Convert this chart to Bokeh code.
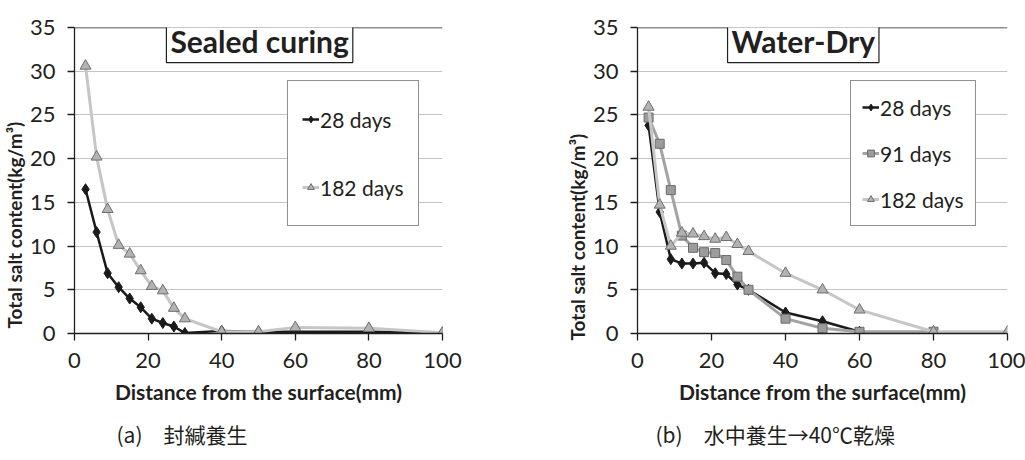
import math
from bokeh.plotting import figure
from bokeh.models import Range1d, Legend, LegendItem, Label, Span, FixedTicker, Title
from bokeh.layouts import row
from bokeh.embed import file_html
from bokeh.resources import INLINE

# ---------------- data ----------------
x_ticks = [0, 20, 40, 60, 80, 100]
y_ticks = [0, 5, 10, 15, 20, 25, 30, 35]

# (a) Sealed curing
depth_a = [3, 6, 9, 12, 15, 18, 21, 24, 27, 30, 40, 50, 60, 80, 100]
sealed_28 = [16.5, 11.6, 6.9, 5.3, 4.0, 3.0, 1.7, 1.2, 0.8, 0.05, 0.3, 0.2, 0.2, 0.2, 0.1]
sealed_182 = [30.6, 20.2, 14.2, 10.1, 9.1, 7.2, 5.4, 4.9, 2.9, 1.7, 0.2, 0.2, 0.7, 0.6, 0.1]

# (b) Water-Dry
depth_b_28 = [3, 6, 9, 12, 15, 18, 21, 24, 27, 30, 40, 50, 60]
wd_28 = [23.8, 13.9, 8.5, 8.0, 8.0, 8.1, 6.9, 6.8, 5.6, 5.0, 2.4, 1.4, 0.2]
depth_b_91 = [3, 6, 9, 12, 15, 18, 21, 24, 27, 30, 40, 50, 60, 80]
wd_91 = [24.7, 21.7, 16.4, 11.2, 9.8, 9.3, 9.2, 8.4, 6.5, 5.0, 1.7, 0.6, 0.2, 0.2]
depth_b_182 = [3, 6, 9, 12, 15, 18, 21, 24, 27, 30, 40, 50, 60, 80, 100]
wd_182 = [25.9, 14.7, 10.0, 11.5, 11.4, 11.1, 10.8, 11.0, 10.2, 9.4, 6.9, 5.0, 2.7, 0.2, 0.2]

titles = ["Sealed curing", "Water-Dry"]
captions = ["(a)\u3000封緘養生", "(b)\u3000水中養生\u219240\u2103乾燥"]
series_names = ["28 days", "91 days", "182 days"]
x_label = "Distance from the surface(mm)"
y_label = "Total salt content(kg/m\u00b3)"

INK = "#231f20"
GRID = "#c4c4c4"


def make_panel(width, bl, br, bt, bb):
    p = figure(width=width, height=460, x_range=Range1d(0, 100), y_range=Range1d(0, 35),
               output_backend="svg", toolbar_location=None,
               min_border_left=bl, min_border_right=br, min_border_top=bt, min_border_bottom=bb)
    p.outline_line_color = None
    p.background_fill_color = "white"
    p.border_fill_color = "white"
    p.xgrid.grid_line_color = None
    p.ygrid.grid_line_color = GRID
    p.ygrid.grid_line_width = 1
    p.xaxis.ticker = FixedTicker(ticks=x_ticks)
    p.yaxis.ticker = FixedTicker(ticks=y_ticks)
    for ax in (p.xaxis, p.yaxis):
        ax.axis_line_color = INK
        ax.axis_line_width = 1.3
        ax.major_tick_line_color = INK
        ax.major_tick_line_width = 1.3
        ax.major_tick_in = 0
        ax.major_tick_out = 7
        ax.minor_tick_line_color = None
        ax.major_label_text_font = "Lato"
        ax.major_label_text_font_size = "22px"
        ax.major_label_text_color = INK
    p.yaxis.major_label_standoff = 12
    p.xaxis.major_label_standoff = 12
    p.xaxis.axis_label = x_label
    p.xaxis.axis_label_text_font = "Lato"
    p.xaxis.axis_label_text_font_style = "bold"
    p.xaxis.axis_label_text_font_size = "21px"
    p.xaxis.axis_label_text_color = INK
    p.xaxis.axis_label_standoff = 8
    p.add_layout(Span(location=35, dimension="width", line_color=INK, line_width=1.3))
    return p


def add_title(p, text, xc, yc):
    p.add_layout(Label(x=xc, y=yc, text=text, text_font="Lato", text_font_style="bold",
                       text_font_size="30px", text_color=INK, text_align="center",
                       text_baseline="middle", background_fill_color="white",
                       border_line_color=INK, border_line_width=1.2, padding=4))


def add_ylabel(p, offset):
    p.add_layout(Title(text=y_label, align="left", offset=offset, standoff=1,
                       text_font="Lato", text_font_style="bold", text_font_size="19px",
                       text_color=INK), "left")


def add_caption(p, text, offset):
    p.add_layout(Title(text=text, align="left", offset=offset, standoff=20,
                       text_font="Noto Sans CJK JP", text_font_style="normal",
                       text_font_size="21px", text_color=INK), "below")


def series(p, xs, ys, kind):
    if kind == 0:
        l = p.line(xs, ys, line_color="#1a1a1a", line_width=2.5)
        s = p.scatter(xs, ys, marker="diamond", size=11, fill_color="#1a1a1a", line_color="#1a1a1a")
    elif kind == 1:
        l = p.line(xs, ys, line_color="#a3a3a3", line_width=3)
        s = p.scatter(xs, ys, marker="square", size=9, fill_color="#9c9c9c", line_color="#6a6a6a", line_width=1)
    else:
        l = p.line(xs, ys, line_color="#c6c6c6", line_width=3)
        s = p.scatter(xs, ys, marker="triangle", size=11, fill_color="#b3b3b3", line_color="#6f6f6f", line_width=1)
    return [l, s]


def add_legend(p, items, loc, padding, spacing, item_h):
    lg = Legend(items=items, location=loc, padding=padding, spacing=spacing,
                label_height=item_h, glyph_height=item_h, glyph_width=17, label_standoff=1,
                label_text_font="Lato", label_text_font_size="21px", label_text_color=INK,
                border_line_color=INK, border_line_width=1.2, background_fill_color="white",
                background_fill_alpha=1.0, margin=0)
    p.add_layout(lg)


# ---------------- (a) ----------------
pa = make_panel(512, 73, 70, 24, 127)
ra28 = series(pa, depth_a, sealed_28, 0)
ra182 = series(pa, depth_a, sealed_182, 2)
add_legend(pa, [LegendItem(label=series_names[0], renderers=ra28),
                LegendItem(label=series_names[2], renderers=ra182)],
           (213, 107), 14, 20, 48)
add_title(pa, titles[0], 50.3, 33.5)
add_ylabel(pa, 5)
add_caption(pa, captions[0], 42)

# ---------------- (b) ----------------
pb = make_panel(513, 125, 18, 27, 124)
rb28 = series(pb, depth_b_28, wd_28, 0)
rb91 = series(pb, depth_b_91, wd_91, 1)
rb182 = series(pb, depth_b_182, wd_182, 2)
add_legend(pb, [LegendItem(label=series_names[0], renderers=rb28),
                LegendItem(label=series_names[1], renderers=rb91),
                LegendItem(label=series_names[2], renderers=rb182)],
           (213, 107), 11, 16, 30)
add_title(pb, titles[1], 44.8, 33.5)
add_ylabel(pb, -7)
add_caption(pb, captions[1], 18)

layout = row(pa, pb)
open("out.html", "w").write(file_html(layout, INLINE))
